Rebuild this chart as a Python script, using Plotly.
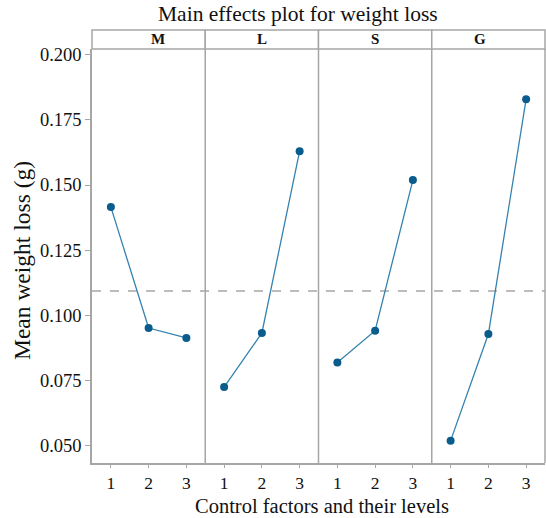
import numpy as np
import plotly.graph_objects as go
from plotly.subplots import make_subplots

factors = ["M", "L", "S", "G"]
levels = [1, 2, 3]
means_M = [0.1415, 0.0950, 0.0912]
means_L = [0.0723, 0.0931, 0.1630]
means_S = [0.0817, 0.0940, 0.1519]
means_G = [0.0517, 0.0927, 0.1830]
y_ticks = [0.050, 0.075, 0.100, 0.125, 0.150, 0.175, 0.200]

series = [means_M, means_L, means_S, means_G]
grand_mean = float(np.mean(np.concatenate([np.array(s) for s in series])))

GRAY = "#a6a6a6"
LINE = "#3582b0"
MARK = "#0a5c8c"
FONT = "Liberation Serif"
W, H = 546, 518
L_M, R_M, T_M, B_M = 92, 1, 49, 55
PW, PH = W - L_M - R_M, H - T_M - B_M

fig = make_subplots(rows=1, cols=4, shared_yaxes=True, horizontal_spacing=0)

for i, vals in enumerate(series):
    fig.add_trace(go.Scatter(x=levels, y=vals, mode="lines+markers",
                             line=dict(color=LINE, width=1.3),
                             marker=dict(color=MARK, size=8, symbol="circle"),
                             showlegend=False), row=1, col=i + 1)
    fig.update_xaxes(range=[0.5, 3.5], tickvals=levels, ticktext=[str(l) for l in levels],
                     ticks="outside", ticklen=3, tickcolor=GRAY, showgrid=False, zeroline=False,
                     showline=True, linecolor=GRAY, linewidth=1.5, mirror=False,
                     tickfont=dict(family=FONT, size=17.5, color="#111"), row=1, col=i + 1)
    fig.update_yaxes(range=[0.0431, 0.2023], showgrid=False, zeroline=False,
                     showline=False, row=1, col=i + 1)

fig.update_yaxes(tickvals=y_ticks, tickformat=".3f", ticks="outside", ticklen=5, tickcolor=GRAY,
                 showline=True, linecolor=GRAY, linewidth=1.5,
                 tickfont=dict(family=FONT, size=18.5, color="#111"), row=1, col=1)

# grand mean dashed line
fig.add_shape(type="line", xref="paper", yref="y", x0=0, x1=1, y0=grand_mean, y1=grand_mean,
              line=dict(color=GRAY, width=1.5, dash="dash"), layer="below")

# strips and panel dividers
strip_h = 19 / PH
for i, f in enumerate(factors):
    xa = fig.layout["xaxis" if i == 0 else f"xaxis{i+1}"]
    d0, d1 = xa.domain
    fig.add_shape(type="rect", xref="paper", yref="paper", x0=d0, x1=d1, y0=1, y1=1 + strip_h,
                  line=dict(color=GRAY, width=1.5), fillcolor="white")
    fig.add_shape(type="line", xref="paper", yref="paper", x0=d1, x1=d1, y0=0, y1=1,
                  line=dict(color=GRAY, width=1.5))
    fig.add_annotation(x=(d0 + d1) / 2, y=1 + strip_h / 2, xref="paper", yref="paper",
                       text=f"<b>{f}</b>", showarrow=False, yanchor="middle",
                       font=dict(family=FONT, size=15, color="#111"))

fig.add_annotation(x=(298 - L_M) / PW, y=1 + (T_M - 14) / PH, xref="paper", yref="paper",
                   text="Main effects plot for weight loss", showarrow=False, yanchor="middle",
                   font=dict(family=FONT, size=21.5, color="#111"))

fig.add_annotation(x=(322 - L_M) / PW, y=-B_M / PH, xref="paper", yref="paper",
                   text="Control factors and their levels", showarrow=False, yanchor="bottom",
                   borderpad=0, font=dict(family=FONT, size=20.5, color="#111"))

fig.add_annotation(x=-(L_M - 22) / PW, y=1 - (261 - T_M) / PH, xref="paper", yref="paper",
                   text="Mean weight loss (g)", showarrow=False, textangle=-90,
                   xanchor="center", yanchor="middle",
                   font=dict(family=FONT, size=23.5, color="#111"))

fig.update_layout(width=W, height=H, margin=dict(l=L_M, r=R_M, t=T_M, b=B_M),
                  plot_bgcolor="white", paper_bgcolor="white")

fig.write_html("out.html")
